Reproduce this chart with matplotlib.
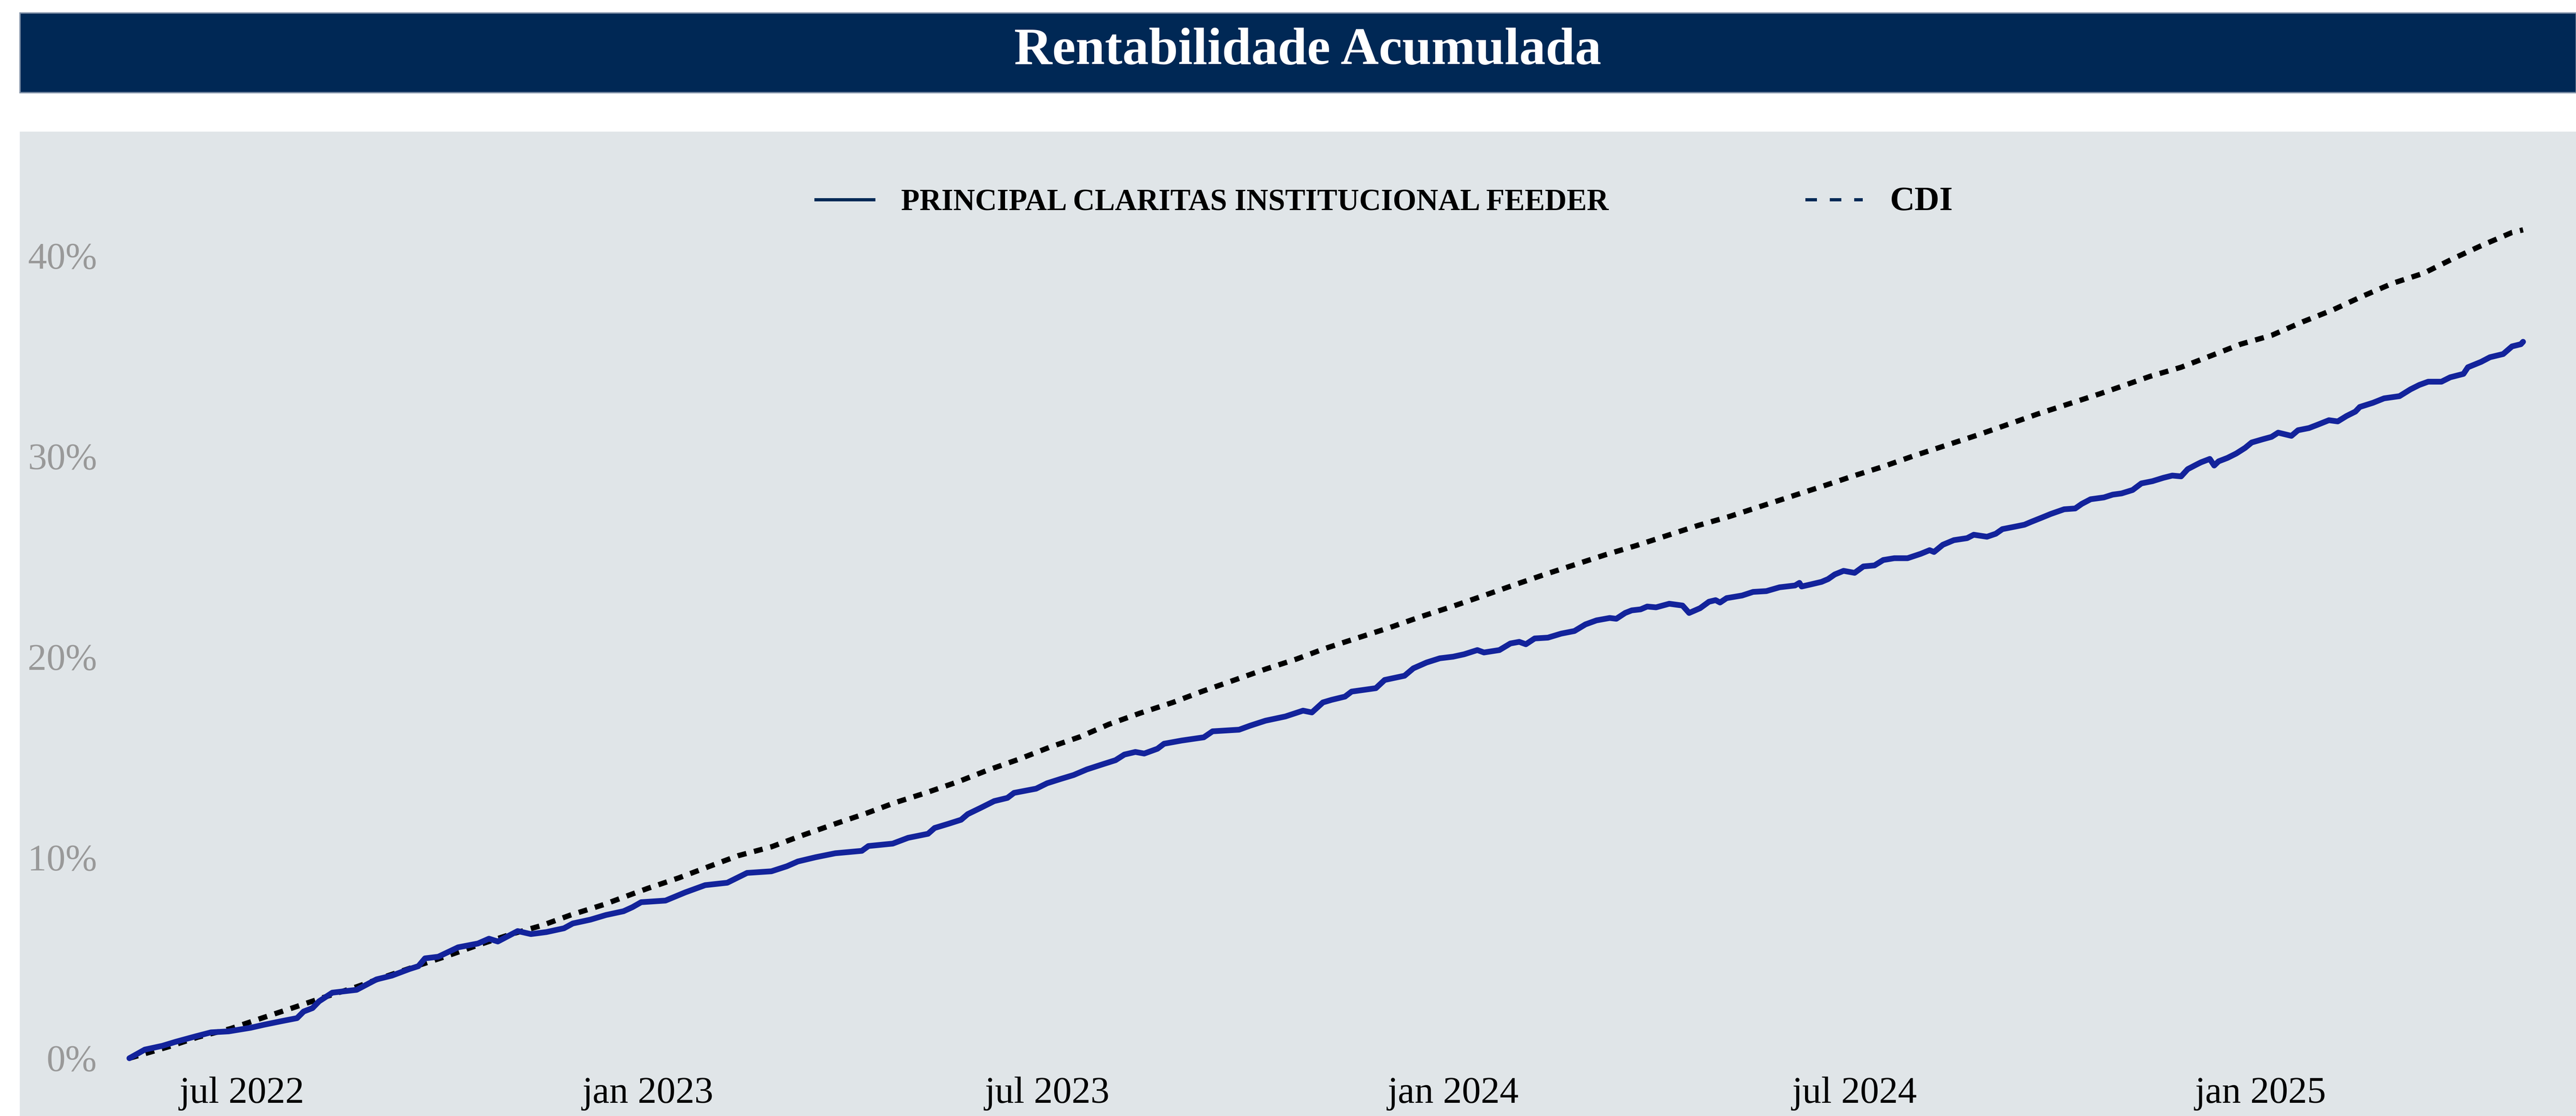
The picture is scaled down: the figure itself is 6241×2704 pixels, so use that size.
import pandas as pd
import matplotlib
matplotlib.use("Agg")
import matplotlib.pyplot as plt
from matplotlib.patches import Rectangle
from matplotlib.lines import Line2D

plt.rcParams['font.family'] = ['Liberation Serif', 'DejaVu Serif']

# Series (rentabilidade acumulada, em %)
fund_name = "PRINCIPAL CLARITAS INSTITUCIONAL FEEDER"
bench_name = "CDI"

fund_dates = [
    "2022-05-11", "2022-05-18", "2022-05-26", "2022-06-01", "2022-06-10", "2022-06-17", "2022-06-25",
    "2022-07-05", "2022-07-11", "2022-07-19", "2022-07-26", "2022-07-29", "2022-08-02", "2022-08-05", "2022-08-11", "2022-08-22", "2022-08-31",
    "2022-09-07", "2022-09-15", "2022-09-19", "2022-09-22", "2022-09-28", "2022-10-07", "2022-10-16", "2022-10-21", "2022-10-25",
    "2022-11-03", "2022-11-09", "2022-11-16", "2022-11-24", "2022-11-28", "2022-12-06", "2022-12-13", "2022-12-21", "2022-12-25", "2022-12-29",
    "2023-01-09", "2023-01-18", "2023-01-27", "2023-02-06", "2023-02-15", "2023-02-26", "2023-03-05", "2023-03-10", "2023-03-18", "2023-03-27",
    "2023-04-08", "2023-04-11", "2023-04-22", "2023-04-29", "2023-05-08", "2023-05-11", "2023-05-17", "2023-05-23", "2023-05-26",
    "2023-06-01", "2023-06-07", "2023-06-13", "2023-06-16", "2023-06-26", "2023-07-01", "2023-07-07", "2023-07-13", "2023-07-19", "2023-07-26",
    "2023-08-01", "2023-08-05", "2023-08-10", "2023-08-14", "2023-08-20", "2023-08-23", "2023-08-31", "2023-09-10", "2023-09-14", "2023-09-26",
    "2023-10-01", "2023-10-08", "2023-10-17", "2023-10-25", "2023-10-29", "2023-11-03", "2023-11-07", "2023-11-13", "2023-11-16", "2023-11-27",
    "2023-12-01", "2023-12-10", "2023-12-14", "2023-12-20", "2023-12-26",
    "2024-01-01", "2024-01-06", "2024-01-12", "2024-01-15", "2024-01-22", "2024-01-27", "2024-01-31", "2024-02-03", "2024-02-07", "2024-02-13", "2024-02-19", "2024-02-25",
    "2024-03-01", "2024-03-06", "2024-03-12", "2024-03-15", "2024-03-19", "2024-03-22", "2024-03-26", "2024-03-29", "2024-04-02", "2024-04-08", "2024-04-14", "2024-04-17", "2024-04-22", "2024-04-26", "2024-04-29",
    "2024-05-01", "2024-05-04", "2024-05-11", "2024-05-16", "2024-05-22", "2024-05-28", "2024-06-04", "2024-06-06", "2024-06-07", "2024-06-11", "2024-06-16", "2024-06-19", "2024-06-22", "2024-06-26",
    "2024-07-01", "2024-07-05", "2024-07-10", "2024-07-14", "2024-07-19", "2024-07-25", "2024-07-31", "2024-08-04", "2024-08-06", "2024-08-10", "2024-08-15", "2024-08-21", "2024-08-24", "2024-08-30",
    "2024-09-03", "2024-09-06", "2024-09-12", "2024-09-16", "2024-09-19", "2024-09-24", "2024-09-28", "2024-10-04", "2024-10-09", "2024-10-12", "2024-10-16", "2024-10-22", "2024-10-26", "2024-10-30",
    "2024-11-04", "2024-11-08", "2024-11-13", "2024-11-18", "2024-11-22", "2024-11-26", "2024-11-29", "2024-12-03", "2024-12-05", "2024-12-09", "2024-12-11", "2024-12-13", "2024-12-17", "2024-12-21", "2024-12-25", "2024-12-28",
    "2025-01-02", "2025-01-06", "2025-01-09", "2025-01-15", "2025-01-18", "2025-01-23", "2025-01-27", "2025-02-01", "2025-02-05", "2025-02-09", "2025-02-13", "2025-02-15", "2025-02-21", "2025-02-26",
    "2025-03-05", "2025-03-10", "2025-03-14", "2025-03-18", "2025-03-24", "2025-03-28", "2025-04-03", "2025-04-05", "2025-04-11", "2025-04-15", "2025-04-21", "2025-04-25", "2025-04-29", "2025-04-30",
]
fund_values = [
    0.0, 0.43, 0.62, 0.82, 1.09, 1.29, 1.34,
    1.52, 1.67, 1.85, 2.0, 2.33, 2.5, 2.84, 3.27, 3.41, 3.93,
    4.12, 4.45, 4.59, 4.98, 5.06, 5.53, 5.72, 5.96, 5.82,
    6.34, 6.19, 6.29, 6.48, 6.72, 6.91, 7.14, 7.33, 7.53, 7.78,
    7.86, 8.27, 8.63, 8.75, 9.24, 9.32, 9.57, 9.81, 10.02, 10.22,
    10.34, 10.58, 10.70, 10.99, 11.19, 11.48, 11.68, 11.89, 12.17,
    12.49, 12.82, 12.98, 13.23, 13.44, 13.71, 13.92, 14.12, 14.4, 14.65,
    14.86, 15.14, 15.27, 15.19, 15.43, 15.68, 15.84, 16.0, 16.3, 16.38,
    16.58, 16.83, 17.04, 17.33, 17.24, 17.74, 17.87, 18.03, 18.28, 18.45,
    18.86, 19.07, 19.44, 19.73, 19.94,
    20.02, 20.14, 20.35, 20.23, 20.35, 20.68, 20.76, 20.64, 20.93, 20.97, 21.17, 21.3,
    21.63, 21.83, 21.95, 21.91, 22.2, 22.33, 22.38, 22.52, 22.48, 22.66, 22.57, 22.2, 22.44, 22.76, 22.84,
    22.72, 22.94, 23.07, 23.25, 23.29, 23.48, 23.57, 23.7, 23.52, 23.62, 23.75, 23.89, 24.12, 24.3,
    24.2, 24.52, 24.57, 24.84, 24.93, 24.93, 25.15, 25.33, 25.24, 25.6, 25.83, 25.93, 26.1, 26.0,
    26.15, 26.38, 26.51, 26.6, 26.74, 26.96, 27.14, 27.37, 27.41, 27.64, 27.87, 27.96, 28.1, 28.16,
    28.33, 28.66, 28.77, 28.94, 29.05, 29.01, 29.37, 29.6, 29.71, 29.88, 29.55, 29.76, 29.93, 30.15, 30.43, 30.7,
    30.86, 30.98, 31.19, 31.03, 31.31, 31.42, 31.59, 31.81, 31.75, 32.02, 32.24, 32.47, 32.68, 32.9,
    33.01, 33.35, 33.57, 33.73, 33.73, 33.95, 34.12, 34.45, 34.72, 34.95, 35.11, 35.49, 35.6, 35.72,
]

cdi_dates = [
    "2022-05-11", "2022-05-29", "2022-06-11", "2022-06-26", "2022-07-10", "2022-07-24", "2022-08-07", "2022-08-22", "2022-09-04",
    "2022-09-18", "2022-10-01", "2022-10-16", "2022-10-30", "2022-11-14", "2022-11-27", "2022-12-12", "2022-12-25",
    "2023-01-01", "2023-01-15", "2023-01-29", "2023-02-11", "2023-02-26", "2023-03-12", "2023-03-27", "2023-04-10", "2023-04-23",
    "2023-05-07", "2023-05-22", "2023-06-04", "2023-06-18", "2023-07-02", "2023-07-16", "2023-07-29", "2023-08-12", "2023-08-27",
    "2023-09-09", "2023-09-23", "2023-10-08", "2023-10-22", "2023-11-04", "2023-11-18", "2023-12-03", "2023-12-17", "2023-12-31",
    "2024-01-14", "2024-01-28", "2024-02-11", "2024-02-25", "2024-03-10", "2024-03-24", "2024-04-07", "2024-04-21", "2024-05-05",
    "2024-05-19", "2024-06-02", "2024-06-16", "2024-07-01", "2024-07-14", "2024-07-28", "2024-08-11", "2024-08-26", "2024-09-08",
    "2024-09-22", "2024-10-06", "2024-10-20", "2024-10-29", "2024-11-12", "2024-11-26", "2024-12-09", "2024-12-23",
    "2025-01-06", "2025-01-20", "2025-02-03", "2025-02-16", "2025-03-02", "2025-03-16", "2025-03-29", "2025-04-11", "2025-04-25", "2025-04-30",
]
cdi_values = [
    0.0, 0.58, 1.05, 1.48, 2.0, 2.51, 3.03, 3.56, 4.07,
    4.59, 5.06, 5.64, 6.15, 6.62, 7.14, 7.66, 8.19,
    8.47, 8.99, 9.57, 10.1, 10.54, 11.11, 11.69, 12.21, 12.74,
    13.23, 13.8, 14.36, 14.9, 15.5, 16.03, 16.65, 17.2, 17.74,
    18.28, 18.82, 19.4, 19.9, 20.43, 20.93, 21.46, 22.0, 22.5,
    23.03, 23.57, 24.1, 24.6, 25.1, 25.56, 26.06, 26.56, 27.0,
    27.5, 28.0, 28.5, 29.05, 29.5, 30.04, 30.54, 31.08, 31.58,
    32.12, 32.62, 33.12, 33.46, 34.0, 34.45, 35.0, 35.6,
    36.04, 36.71, 37.32, 37.98, 38.64, 39.14, 39.85, 40.51, 41.17, 41.3,
]

tick_dates = ["2022-07-01", "2023-01-01", "2023-07-01", "2024-01-01", "2024-07-01", "2025-01-01"]
tick_labels = ["jul 2022", "jan 2023", "jul 2023", "jan 2024", "jul 2024", "jan 2025"]
y_ticks = [0, 10, 20, 30, 40]

navy = "#002855"
panel_bg = "#e0e5e8"
fund_color = "#13239b"

W, H, DPI = 6241, 2704, 400
fig = plt.figure(figsize=(W / DPI, H / DPI), dpi=DPI)
fig.patch.set_facecolor("white")

# faixa do titulo
fig.patches.append(Rectangle((48 / W, 1 - 224 / H), 1 - 48 / W, 193 / H,
                             transform=fig.transFigure, facecolor=navy,
                             edgecolor="#7f90a6", linewidth=0.6, zorder=-2))
fig.text(0.5077, 1 - 155 / H, "Rentabilidade Acumulada", color="white",
         fontsize=23, fontweight="bold", ha="center", va="baseline")

# painel cinza
fig.patches.append(Rectangle((48 / W, 0), 1 - 48 / W, (H - 319) / H,
                             transform=fig.transFigure, facecolor=panel_bg,
                             edgecolor="none", zorder=-2))

ax = fig.add_axes([260 / W, 1 - 2600 / H, (W - 260) / W, (2600 - 330) / H])
ax.set_facecolor("none")

fd = pd.to_datetime(fund_dates)
cd = pd.to_datetime(cdi_dates)

ax.plot(cd, cdi_values, color="black", linewidth=2.3, dashes=(1.7, 1.5),
        dash_capstyle="butt", zorder=2)
ax.plot(fd, fund_values, color=fund_color, linewidth=2.5,
        solid_joinstyle="round", solid_capstyle="round", zorder=3)

ax.set_xlim(pd.Timestamp("2022-05-01"), pd.Timestamp("2025-05-24"))
ax.set_ylim(-0.74, 45.97)

ax.set_xticks(pd.to_datetime(tick_dates))
ax.set_xticklabels(tick_labels, fontsize=16.5, color="black")
ax.set_yticks(y_ticks)
ax.set_yticklabels([f"{v}%" for v in y_ticks], fontsize=16.5, color="#999999")
ax.tick_params(axis="both", length=0)
ax.tick_params(axis="y", pad=4.5)
ax.tick_params(axis="x", pad=1.5)
for s in ax.spines.values():
    s.set_visible(False)

handles = [
    Line2D([], [], color=navy, linewidth=1.4),
    Line2D([], [], color=navy, linewidth=1.4, dashes=(3.6, 4.0)),
]
leg = ax.legend(handles, [fund_name, bench_name], loc="center", ncol=2,
                bbox_to_anchor=(0.5375, 1 - 490 / H), bbox_transform=fig.transFigure,
                frameon=False, handlelength=1.9, handletextpad=0.9, columnspacing=6.5,
                prop={"size": 13.2, "weight": "bold"})
leg.get_texts()[1].set_fontsize(15)

fig.savefig("out.png", dpi=DPI)
